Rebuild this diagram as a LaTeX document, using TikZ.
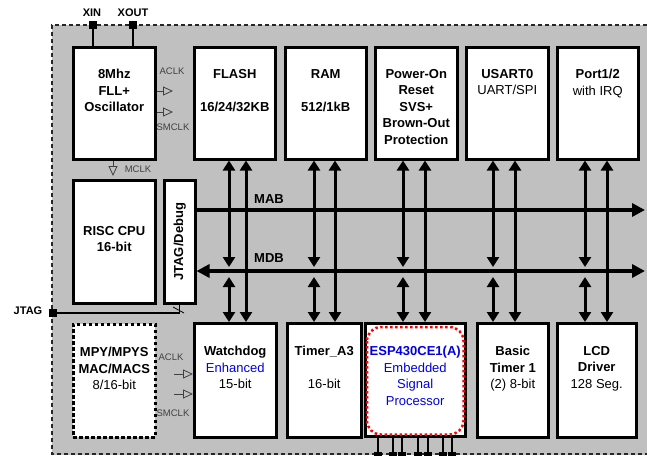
\documentclass[tikz,border=0pt]{standalone}
\usepackage{fontspec}
\setmainfont{Liberation Sans}
\usepackage{tikz}
\usetikzlibrary{arrows.meta, positioning}
\definecolor{bggray}{RGB}{192,192,192}
\definecolor{espblue}{RGB}{0,0,225}
\tikzstyle{blk} = [draw, fill=white, line width=2.5pt, inner sep=0pt, anchor=north west]
\tikzstyle{dblk} = [blk, dash pattern=on 3.5pt off 2.5pt]
\tikzstyle{txt} = [inner sep=0pt, align=center, font=\fontsize{13}{16.5}\selectfont\bfseries]
\tikzstyle{clklbl} = [inner sep=0pt, text=black!75, font=\fontsize{9.5}{11}\selectfont]
\tikzstyle{iolbl} = [inner sep=0pt, font=\fontsize{11}{13}\selectfont\bfseries]
\tikzstyle{padsq} = [draw, fill=black, minimum size=7pt, inner sep=0pt]
\tikzstyle{wire} = [draw, line width=1.3pt]
\tikzstyle{clk} = [draw, line width=0.8pt, black!75, -{Triangle[open, length=10pt, width=9pt]}]
\tikzstyle{bus} = [draw, line width=4pt, -{Triangle[length=13pt, width=13pt]}]
\tikzstyle{dbus} = [draw, line width=4pt, {Triangle[length=13pt, width=13pt]}-{Triangle[length=13pt, width=13pt]}]
\tikzstyle{vbus} = [draw, line width=3pt, {Triangle[length=10pt, width=12pt]}-{Triangle[length=10pt, width=12pt]}]
\tikzstyle{border} = [draw, line width=2pt, dash pattern=on 4pt off 3pt, black!85]

\begin{document}
\begin{tikzpicture}[x=1pt, y=-1pt]
\useasboundingbox (0,0) rectangle (647,455);
% chip area
\fill[bggray] (52,25) rectangle (647,455);
\path[border] (647,25) -- (52,25) -- (52,454) -- (647,454);

% upper row
\node[blk, minimum width=82pt, minimum height=112pt] (osc) at (72,46) {};
\node[blk, minimum width=81pt, minimum height=112pt] (flash) at (193,46) {};
\node[blk, minimum width=81pt, minimum height=112pt] (ram) at (284,46) {};
\node[blk, minimum width=82pt, minimum height=112pt] (por) at (374,46) {};
\node[blk, minimum width=82pt, minimum height=112pt] (usart) at (465,46) {};
\node[blk, minimum width=81pt, minimum height=112pt] (port) at (556,46) {};
% cpu row
\node[blk, minimum width=82pt, minimum height=123pt] (cpu) at (72,179) {};
\node[blk, minimum width=31pt, minimum height=123pt] (jtagdbg) at (163,179) {};
% lower row
\node[dblk, minimum width=82pt, minimum height=113pt] (mpy) at (72,323) {};
\node[blk, minimum width=82pt, minimum height=114pt] (wdt) at (193,322) {};
\node[blk, minimum width=74pt, minimum height=114pt] (tmr) at (286,322) {};
\node[blk, minimum width=100pt, minimum height=113pt] (esp) at (364,322) {};
\node[blk, minimum width=71pt, minimum height=114pt] (btm) at (476,322) {};
\node[blk, minimum width=79pt, minimum height=114pt] (lcd) at (556,322) {};
\draw[red, line width=2.5pt, dash pattern=on 2.5pt off 2.5pt, rounded corners=14pt]
  ([xshift=3pt, yshift=-5pt]esp.north west) rectangle ([xshift=-3pt, yshift=3pt]esp.south east);

% block texts
\node[txt, below=23pt of osc.north] (osctxt) {8Mhz\\FLL+\\Oscillator};
\node[txt, below=23pt of flash.north] (flashtxt) {FLASH\\[16.5pt]16/24/32KB};
\node[txt, below=23pt of ram.north] (ramtxt) {RAM\\[16.5pt]512/1kB};
\node[txt, below=23pt of por.north] (portxt) {Power-On\\Reset\\SVS+\\Brown-Out\\Protection};
\node[txt, below=23pt of usart.north] (usarttxt) {USART0\\{\mdseries UART/SPI}};
\node[txt, below=23pt of port.north] (porttxt) {Port1/2\\{\mdseries with IRQ}};
\node[txt, below=47pt of cpu.north] (cputxt) {RISC CPU\\16-bit};
\node[txt, rotate=90] (jtagtxt) at (jtagdbg.center) {JTAG/Debug};
\node[txt, below=24pt of mpy.north] (mpytxt) {MPY/MPYS\\MAC/MACS\\{\mdseries 8/16-bit}};
\node[txt, below=24pt of wdt.north] (wdttxt) {Watchdog\\{\mdseries\color{espblue}Enhanced}\\{\mdseries 15-bit}};
\node[txt, below=24pt of tmr.north] (tmrtxt) {Timer\_A3\\[16.5pt]{\mdseries 16-bit}};
\node[txt, text=espblue, below=24pt of esp.north] (esptxt) {ESP430CE1(A)\\{\mdseries Embedded}\\{\mdseries Signal}\\{\mdseries Processor}};
\node[txt, below=24pt of btm.north] (btmtxt) {Basic\\Timer 1\\{\mdseries (2) 8-bit}};
\node[txt, below=24pt of lcd.north] (lcdtxt) {LCD\\Driver\\{\mdseries 128 Seg.}};

% clocks
\coordinate (aclk-u) at (173,91);
\coordinate (smclk-u) at (173,112);
\coordinate (mclk) at (113,176);
\coordinate (aclk-l) at (174,374);
\coordinate (smclk-l) at (174,394);
\path[clk] (osc.east |- aclk-u) -- (aclk-u);
\path[clk] (osc.east |- smclk-u) -- (smclk-u);
\path[clk] (osc.south -| mclk) -- (mclk);
\path[clk] (aclk-l) -- (wdt.west |- aclk-l);
\path[clk] (smclk-l) -- (wdt.west |- smclk-l);
\node[clklbl] (aclk-ut) at (172,71) {ACLK};
\node[clklbl] (smclk-ut) at (173,127) {SMCLK};
\node[clklbl] (mclkt) at (138,169) {MCLK};
\node[clklbl] (aclk-lt) at (171,357) {ACLK};
\node[clklbl] (smclk-lt) at (173,413) {SMCLK};

% pins
\node[padsq] (xinpad) at (93,25) {};
\node[padsq] (xoutpad) at (133,25) {};
\node[padsq] (jtagpad) at (53,313) {};
\node[iolbl] (xinlbl) at (92,13) {XIN};
\node[iolbl] (xoutlbl) at (133,13) {XOUT};
\node[iolbl] (jtaglbl) at (28,311) {JTAG};
\path[wire] (xinpad) -- (osc.north -| xinpad);
\path[wire] (xoutpad) -- (osc.north -| xoutpad);
\path[wire] (jtagpad) -- (jtagdbg.south |- jtagpad) -- (jtagdbg.south);
\draw[line width=0.8pt] (173,307) -- (184,313);
\foreach \px [count=\i] in {378,393,402,418,428,443,452}{
  \node[padsq] (esppad\i) at (\px,456) {};
  \path[wire] (esp.south -| esppad\i) -- (esppad\i);
}

% buses
\coordinate (mab-e) at (645,210);
\coordinate (mdb-e) at (645,271);
\coordinate (mdbtop) at (0,267);
\coordinate (mdbbot) at (0,277);
\path[bus] (jtagdbg.east |- mab-e) -- (mab-e);
\path[dbus] (jtagdbg.east |- mdb-e) -- (mdb-e);
\node[txt] (mablbl) at (269,199) {MAB};
\node[txt] (mdblbl) at (269,258) {MDB};
\foreach \up/\dn/\xl/\xr in {flash/wdt/229/246, ram/tmr/314/335, por/esp/403/425, usart/btm/493/515, port/lcd/585/607}{
  \path[vbus] (\up.south -| \xl,0) -- (mdbtop -| \xl,0);
  \path[vbus] (mdbbot -| \xl,0) -- (\dn.north -| \xl,0);
  \path[vbus] (\up.south -| \xr,0) -- (\dn.north -| \xr,0);
}
\end{tikzpicture}
\end{document}
